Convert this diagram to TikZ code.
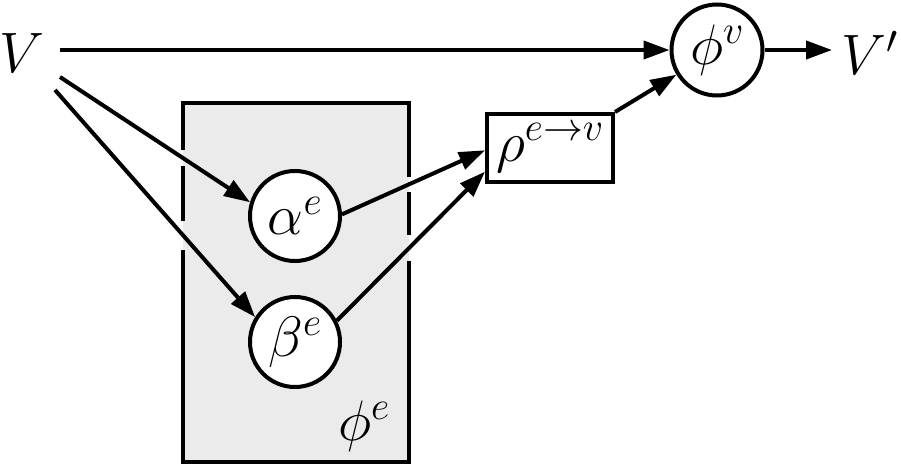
\documentclass[tikz,border=0pt]{standalone}
\usepackage{fix-cm}
\usetikzlibrary{arrows.meta}
\begin{document}
\begin{tikzpicture}[x=1pt,y=-1pt,
  lw/.style={line width=4pt},
  arr/.style={lw, -{Triangle[length=26pt,width=18pt]}},
  big/.style={font=\fontsize{57}{60}\selectfont},
  circ/.style={circle, draw, lw, fill=white, minimum size=91pt, inner sep=0pt, big},
  lbl/.style={inner sep=0pt, big},
]
\useasboundingbox (0,0) rectangle (901,465);
% gray edge-block with gaps where connectors cross
\fill[black!8] (183,103) rectangle (409,462);
\draw[lw, line join=miter] (183,150) -- (183,103) -- (409,103) -- (409,177);
\draw[lw] (183,166) -- (183,221);
\draw[lw] (409,192) -- (409,235);
\draw[lw, line join=miter] (183,250) -- (183,462) -- (409,462) -- (409,261);
\node[lbl] (phie) at (364,426) {$\phi^e$};

% nodes
\node[lbl] (V) at (22,53) {$V$};
\node[circ] (phiv) at (717,50) {$\phi^v$};
\node[lbl, anchor=west, inner xsep=9pt] (Vp) at (832,53) {$V'$};
\node[circ, minimum size=90pt] (al) at (295,216) {$\alpha^e$};
\node[circ, minimum size=90pt] (be) at (295,342) {$\beta^e$};
\node[draw, lw, fill=white, minimum width=126pt, minimum height=68pt, inner sep=0pt, big] (rho) at (550,148) {$\rho^{e\to v}$};

% free ends at V
\coordinate (v0) at (60,50);
\coordinate (v1) at (60,77);
\coordinate (v2) at (55,90);

% connectors
\draw[arr] (v0) -- (phiv.west);
\draw[arr] (v1) -- (al.163);
\draw[arr] (v2) -- (be.148);
\draw[arr] (al.2) -- (rho.182);
\draw[arr] (be.27) -- (rho.200);
\draw[arr] (rho.north east) -- (phiv);
\draw[arr] (phiv.east) -- (Vp.west |- phiv.east);
\end{tikzpicture}
\end{document}
